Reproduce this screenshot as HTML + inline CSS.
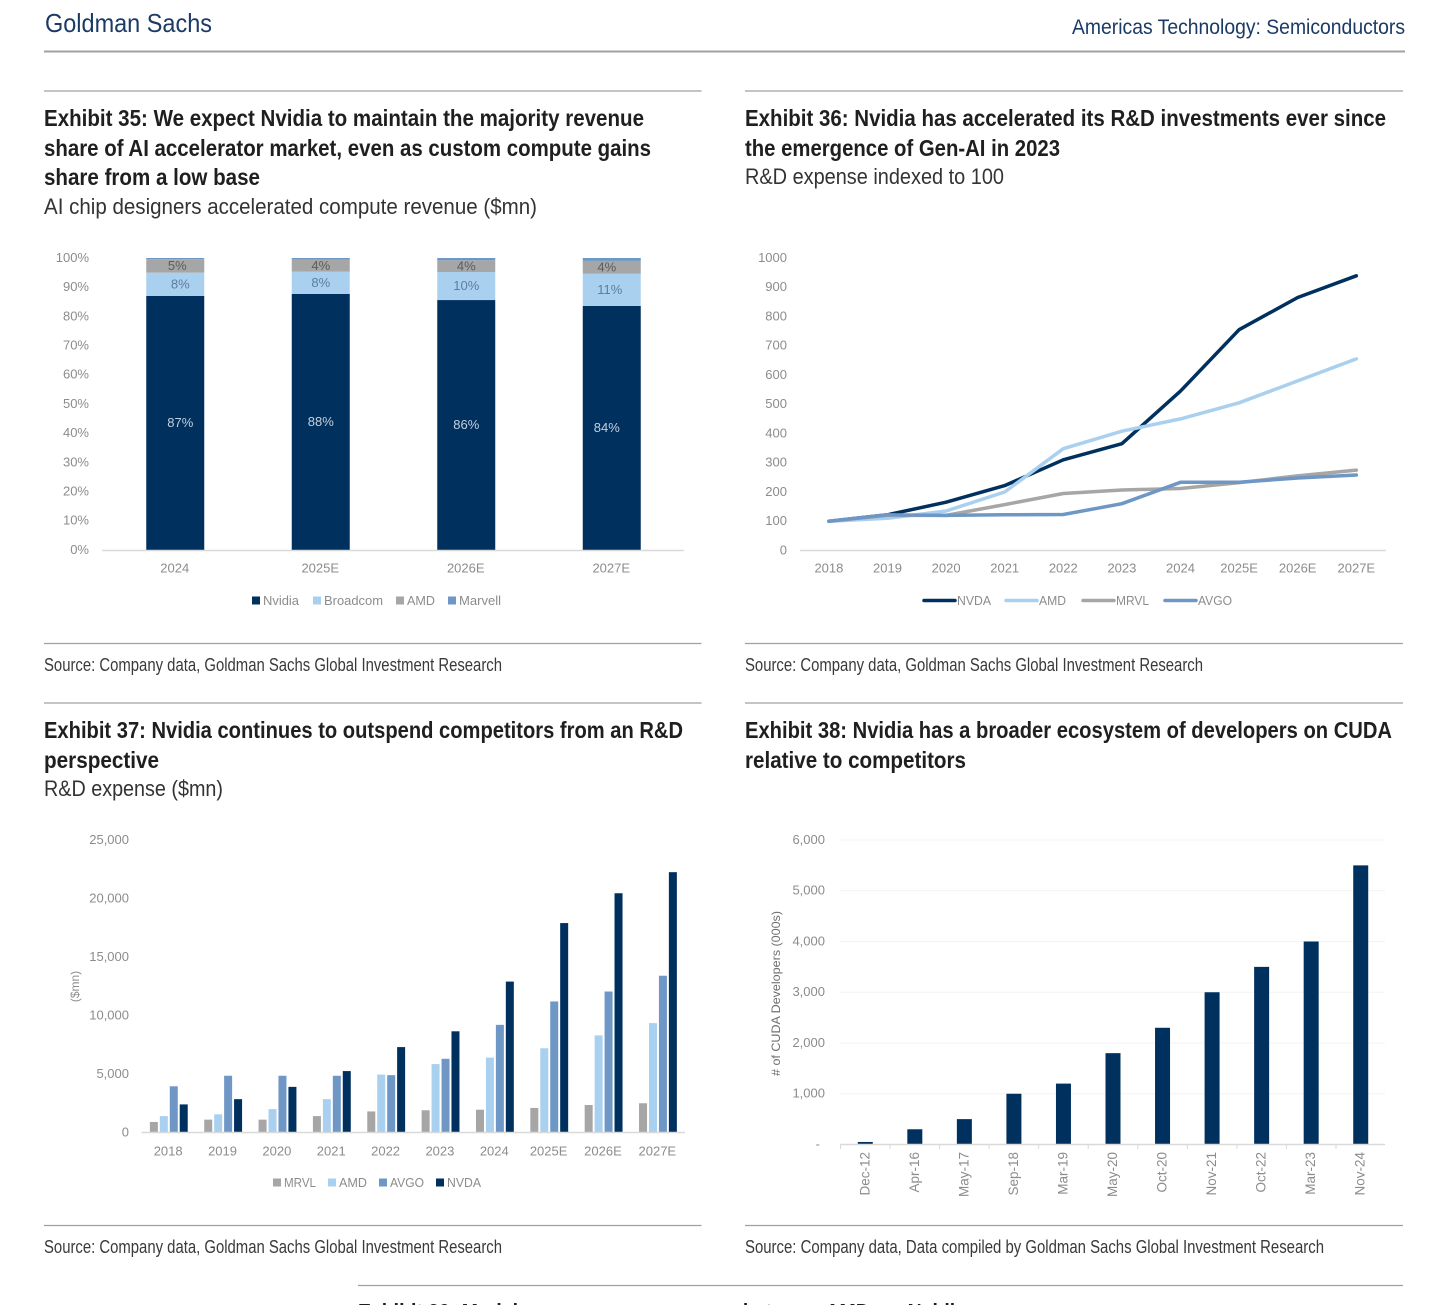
<!DOCTYPE html>
<html lang="en">
<head>
<meta charset="utf-8">
<title>Goldman Sachs - Americas Technology: Semiconductors</title>
<style>
html,body{margin:0;padding:0;background:#fff;width:1456px;height:1305px;overflow:hidden}
svg{display:block;font-family:"Liberation Sans",sans-serif}
.t{font-family:"Liberation Sans Narrow","Liberation Sans",sans-serif;font-weight:700;font-size:23px;fill:#1f1f1f}
.s{font-family:"Liberation Sans Narrow","Liberation Sans",sans-serif;font-size:22px;fill:#333}
.src{font-family:"Liberation Sans Narrow","Liberation Sans",sans-serif;font-size:18px;fill:#3a3a3a}
.rule{stroke:#a0a0a0;stroke-width:1.3}
</style>
</head>
<body>
<svg id="page" width="1456" height="1305" viewBox="0 0 1456 1305" xmlns="http://www.w3.org/2000/svg">
<rect width="1456" height="1305" fill="#fff"/>

<text x="45" y="32" font-size="26" fill="#1b3b66" font-family="'Liberation Sans Narrow','Liberation Sans',sans-serif" textLength="167" lengthAdjust="spacingAndGlyphs">Goldman Sachs</text>
<text x="1072" y="34" font-size="21" fill="#1b3b66" font-family="'Liberation Sans Narrow','Liberation Sans',sans-serif" textLength="333" lengthAdjust="spacingAndGlyphs">Americas Technology: Semiconductors</text>
<line x1="44" x2="1405" y1="51.5" y2="51.5" stroke="#a0a0a0" stroke-width="2"/>

<line class="rule" x1="44" x2="701.5" y1="91" y2="91"/>
<line class="rule" x1="745" x2="1403" y1="91" y2="91"/>
<text class="t" x="44" y="126" textLength="600" lengthAdjust="spacingAndGlyphs">Exhibit 35: We expect Nvidia to maintain the majority revenue</text>
<text class="t" x="44" y="156" textLength="607" lengthAdjust="spacingAndGlyphs">share of AI accelerator market, even as custom compute gains</text>
<text class="t" x="44" y="185" textLength="216" lengthAdjust="spacingAndGlyphs">share from a low base</text>
<text class="s" x="44" y="214" textLength="493" lengthAdjust="spacingAndGlyphs">AI chip designers accelerated compute revenue ($mn)</text>
<text class="t" x="745" y="126" textLength="641" lengthAdjust="spacingAndGlyphs">Exhibit 36: Nvidia has accelerated its R&amp;D investments ever since</text>
<text class="t" x="745" y="156" textLength="315" lengthAdjust="spacingAndGlyphs">the emergence of Gen-AI in 2023</text>
<text class="s" x="745" y="184" textLength="259" lengthAdjust="spacingAndGlyphs">R&amp;D expense indexed to 100</text>

<line class="rule" x1="44" x2="701.5" y1="643.5" y2="643.5"/>
<line class="rule" x1="745" x2="1403" y1="643.5" y2="643.5"/>
<text class="src" x="44" y="671" textLength="458" lengthAdjust="spacingAndGlyphs">Source: Company data, Goldman Sachs Global Investment Research</text>
<text class="src" x="745" y="671" textLength="458" lengthAdjust="spacingAndGlyphs">Source: Company data, Goldman Sachs Global Investment Research</text>

<line class="rule" x1="44" x2="701.5" y1="703" y2="703"/>
<line class="rule" x1="745" x2="1403" y1="703" y2="703"/>
<text class="t" x="44" y="738" textLength="639" lengthAdjust="spacingAndGlyphs">Exhibit 37: Nvidia continues to outspend competitors from an R&amp;D</text>
<text class="t" x="44" y="768" textLength="115" lengthAdjust="spacingAndGlyphs">perspective</text>
<text class="s" x="44" y="796" textLength="179" lengthAdjust="spacingAndGlyphs">R&amp;D expense ($mn)</text>
<text class="t" x="745" y="738" textLength="647" lengthAdjust="spacingAndGlyphs">Exhibit 38: Nvidia has a broader ecosystem of developers on CUDA</text>
<text class="t" x="745" y="768" textLength="221" lengthAdjust="spacingAndGlyphs">relative to competitors</text>

<line class="rule" x1="44" x2="701.5" y1="1225.5" y2="1225.5"/>
<line class="rule" x1="745" x2="1403" y1="1225.5" y2="1225.5"/>
<text class="src" x="44" y="1253" textLength="458" lengthAdjust="spacingAndGlyphs">Source: Company data, Goldman Sachs Global Investment Research</text>
<text class="src" x="745" y="1253" textLength="579" lengthAdjust="spacingAndGlyphs">Source: Company data, Data compiled by Goldman Sachs Global Investment Research</text>

<line class="rule" x1="358" x2="1403" y1="1285.5" y2="1285.5"/>
<text class="t" x="358" y="1320" textLength="608" lengthAdjust="spacingAndGlyphs">Exhibit 39: Models are more open source between AMD vs. Nvidia</text>

<g id="chart35"></g>
<g id="chart36"></g>
<g id="chart37"></g>
<g id="chart38"></g>
</svg>

<script>
// ---- Exhibit 35 data
const shareCategories = ['2024', '2025E', '2026E', '2027E'];
const shareNvidia = [87, 87.7, 85.6, 83.6];
const shareBroadcom = [8, 7.6, 9.6, 11];
const shareAmd = [4.6, 4.1, 4, 4.4];
const shareMarvell = [0.4, 0.6, 0.8, 1];
const shareTicks = [0, 10, 20, 30, 40, 50, 60, 70, 80, 90, 100];

// ---- Exhibit 36 data
const indexCategories = ['2018', '2019', '2020', '2021', '2022', '2023', '2024', '2025E', '2026E', '2027E'];
const indexNvda = [100, 122, 165, 222, 310, 365, 545, 755, 865, 939];
const indexAmd = [100, 110, 135, 200, 348, 408, 450, 505, 580, 655];
const indexMrvl = [100, 120, 120, 157, 195, 207, 212, 232, 255, 275];
const indexAvgo = [100, 122, 120, 122, 123, 160, 233, 233, 248, 258];
const indexTicks = [0, 100, 200, 300, 400, 500, 600, 700, 800, 900, 1000];

// ---- Exhibit 37 data
const spendCategories = ['2018', '2019', '2020', '2021', '2022', '2023', '2024', '2025E', '2026E', '2027E'];
const spendMrvl = [900, 1100, 1100, 1400, 1800, 1900, 1950, 2100, 2350, 2500];
const spendAmd = [1400, 1550, 2000, 2850, 4950, 5850, 6400, 7200, 8300, 9350];
const spendAvgo = [3950, 4850, 4850, 4850, 4900, 6300, 9200, 11200, 12050, 13400];
const spendNvda = [2400, 2850, 3900, 5250, 7300, 8650, 12900, 17900, 20450, 22250];
const spendTicks = [0, 5000, 10000, 15000, 20000, 25000];

// ---- Exhibit 38 data
const devCategories = ['Dec-12', 'Apr-16', 'May-17', 'Sep-18', 'Mar-19', 'May-20', 'Oct-20', 'Nov-21', 'Oct-22', 'Mar-23', 'Nov-24'];
const devValues = [50, 300, 500, 1000, 1200, 1800, 2300, 3000, 3500, 4000, 5500];
const devTicks = [0, 1000, 2000, 3000, 4000, 5000, 6000];

const NS = 'http://www.w3.org/2000/svg';
const NAVY = '#00305e', LIGHT = '#a9d0ef', GRAY = '#a6a6a6', MID = '#6f97c6', TICK = '#8c8c8c', AXIS = '#d9d9d9';

function make(parent, tag, props) {
  const el = document.createElementNS(NS, tag);
  for (const k in props) el.setAttribute(k, props[k]);
  parent.appendChild(el);
  return el;
}
function label(parent, x, y, str, anchor, fill, size) {
  const el = make(parent, 'text', {x: x, y: y, 'text-anchor': anchor || 'middle', fill: fill || TICK, 'font-size': size || 13});
  el.textContent = str;
  return el;
}
function legendLabel(parent, x, y, str, width) {
  const el = label(parent, x, y, str, 'start');
  el.setAttribute('textLength', width);
  el.setAttribute('lengthAdjust', 'spacingAndGlyphs');
  return el;
}
function linearY(y0, y1, vMin, vMax) {
  return v => y0 + (v - vMin) / (vMax - vMin) * (y1 - y0);
}
function bandX(x0, x1, n) {
  const w = (x1 - x0) / n;
  return i => x0 + w * (i + 0.5);
}
function fmt(n) {
  return String(n).replace(/\B(?=(\d{3})+$)/g, ',');
}

// ---------- Exhibit 35
(function () {
  const g = document.getElementById('chart35');
  const y = linearY(550, 258, 0, 100);
  const x = bandX(102.5, 684.5, shareCategories.length);
  const barW = 58;
  const nudgeNvidia = [5, 0, 0, -5];
  const nudgeBroadcom = [5, 0, 0, -2];
  const nudgeAmd = [2, 0, 0, -5];
  const layers = [
    {key: 'nvidia', vals: shareNvidia, color: NAVY, text: '#c3d0df', nudge: nudgeNvidia},
    {key: 'broadcom', vals: shareBroadcom, color: LIGHT, text: '#5f7d9c', nudge: nudgeBroadcom},
    {key: 'amd', vals: shareAmd, color: GRAY, text: '#5c5c5c', nudge: nudgeAmd},
    {key: 'marvell', vals: shareMarvell, color: MID, text: null, nudge: null}
  ];
  shareTicks.forEach(t => {
    const tl = label(g, 89, y(t) + 3.9, t + '%', 'end');
    
    
  });
  shareCategories.forEach((c, i) => {
    let base = 0;
    layers.forEach(l => {
      const v = l.vals[i];
      const bar = make(g, 'rect', {x: x(i) - barW / 2, y: y(base + v), width: barW, height: y(base) - y(base + v), fill: l.color});
      
      
      if (l.text) {
        const vl = label(g, x(i) + l.nudge[i], (y(base) + y(base + v)) / 2 + 4.2, Math.round(v) + '%', 'middle', l.text);
        
        
      }
      base += v;
    });
    const cl = label(g, x(i) - 0.5, 572.5, c);
    
    
  });
  const axis = make(g, 'line', {x1: 102, x2: 684, y1: 550.5, y2: 550.5, stroke: AXIS, 'stroke-width': 1.4});
  
  
  [['Nvidia', NAVY, 252, 36], ['Broadcom', LIGHT, 313, 59], ['AMD', GRAY, 396, 28], ['Marvell', MID, 448, 42]].forEach(e => {
    const sw = make(g, 'rect', {x: e[2], y: 596.5, width: 8, height: 8, fill: e[1]});
    
    
    const lt = legendLabel(g, e[2] + 11, 605, e[0], e[3]);
    
    
  });
})();

// ---------- Exhibit 36
(function () {
  const g = document.getElementById('chart36');
  const y = linearY(550.5, 258, 0, 1000);
  const x = bandX(800, 1386, indexCategories.length);
  indexTicks.forEach(t => {
    const tl = label(g, 787, y(t) + 3.9, String(t), 'end');
    
    
  });
  indexCategories.forEach((c, i) => {
    const cl = label(g, x(i) - 0.4, 572.5, c);
    
    
  });
  const axis = make(g, 'line', {x1: 800, x2: 1386, y1: 550.5, y2: 550.5, stroke: AXIS, 'stroke-width': 1.4});
  
  
  [[indexNvda, NAVY], [indexAmd, LIGHT], [indexMrvl, GRAY], [indexAvgo, MID]].forEach(s => {
    const pts = s[0].map((v, i) => (x(i) - 0.4).toFixed(1) + ',' + y(v).toFixed(1)).join(' ');
    const ln = make(g, 'polyline', {points: pts, fill: 'none', stroke: s[1], 'stroke-width': 3.5, 'stroke-linejoin': 'round', 'stroke-linecap': 'round'});
    
    
  });
  [['NVDA', NAVY, 924, 34], ['AMD', LIGHT, 1006, 27], ['MRVL', GRAY, 1083, 33], ['AVGO', MID, 1165, 34]].forEach(e => {
    const sw = make(g, 'line', {x1: e[2], x2: e[2] + 31, y1: 600.5, y2: 600.5, stroke: e[1], 'stroke-width': 3.5, 'stroke-linecap': 'round'});
    
    
    const lt = legendLabel(g, e[2] + 33, 605, e[0], e[3]);
    
    
  });
})();

// ---------- Exhibit 37
(function () {
  const g = document.getElementById('chart37');
  const y = linearY(1132.5, 840, 0, 25000);
  const x = bandX(141.5, 685, spendCategories.length);
  const series = [[spendMrvl, GRAY], [spendAmd, LIGHT], [spendAvgo, MID], [spendNvda, NAVY]];
  spendTicks.forEach(t => {
    const tl = label(g, 129, y(t) + 3.9, fmt(t), 'end');
    
    
  });
  spendCategories.forEach((c, i) => {
    series.forEach((s, k) => {
      const bar = make(g, 'rect', {x: x(i) - 18.8 + k * 9.95, y: y(s[0][i]), width: 8, height: y(0) - y(s[0][i]), fill: s[1]});
      
      
    });
    const cl = label(g, x(i) - 0.5, 1155.5, c);
    
    
  });
  const axis = make(g, 'line', {x1: 141.5, x2: 685, y1: 1132.5, y2: 1132.5, stroke: AXIS, 'stroke-width': 1.4});
  
  
  const yt = label(g, 0, 0, '($mn)', 'middle', '#8c8c8c', 12);
  yt.setAttribute('transform', 'translate(79,986.5) rotate(-90)');
  
  
  [['MRVL', GRAY, 273, 32], ['AMD', LIGHT, 328, 28], ['AVGO', MID, 379, 34], ['NVDA', NAVY, 436, 34]].forEach(e => {
    const sw = make(g, 'rect', {x: e[2], y: 1178.5, width: 8, height: 8, fill: e[1]});
    
    
    const lt = legendLabel(g, e[2] + 11, 1187, e[0], e[3]);
    
    
  });
})();

// ---------- Exhibit 38
(function () {
  const g = document.getElementById('chart38');
  const y = linearY(1144.5, 840, 0, 6000);
  const x = bandX(840.5, 1385.5, devCategories.length);
  const band = 545 / devCategories.length;
  devTicks.forEach(t => {
    if (t > 0) {
      const gl = make(g, 'line', {x1: 840, x2: 1385, y1: y(t), y2: y(t), stroke: '#f3f3f3', 'stroke-width': 1});
      
      
    }
    const tl = label(g, t === 0 ? 820 : 825, y(t) + 3.9, t === 0 ? '-' : fmt(t), 'end');
    
    
  });
  devCategories.forEach((c, i) => {
    const bar = make(g, 'rect', {x: x(i) - 7.5, y: y(devValues[i]), width: 15, height: y(0) - y(devValues[i]), fill: NAVY});
    
    
    const tk = make(g, 'line', {x1: x(i) - band / 2, x2: x(i) - band / 2, y1: 1144.5, y2: 1149, stroke: AXIS, 'stroke-width': 1});
    
    
    const cl = label(g, 0, 0, c, 'end', TICK, 13.5);
    cl.setAttribute('transform', 'translate(' + (x(i) + 4).toFixed(1) + ',1152) rotate(-90)');
    
    
  });
  const axis = make(g, 'line', {x1: 840, x2: 1385, y1: 1144.5, y2: 1144.5, stroke: AXIS, 'stroke-width': 1.4});
  
  
  const yt = label(g, 0, 0, '# of CUDA Developers (000s)', 'middle', '#6f6f6f', 12);
  yt.setAttribute('transform', 'translate(780,993.5) rotate(-90)');
  yt.setAttribute('textLength', '165');
  yt.setAttribute('lengthAdjust', 'spacingAndGlyphs');
  
  
})();
</script>
</body>
</html>
